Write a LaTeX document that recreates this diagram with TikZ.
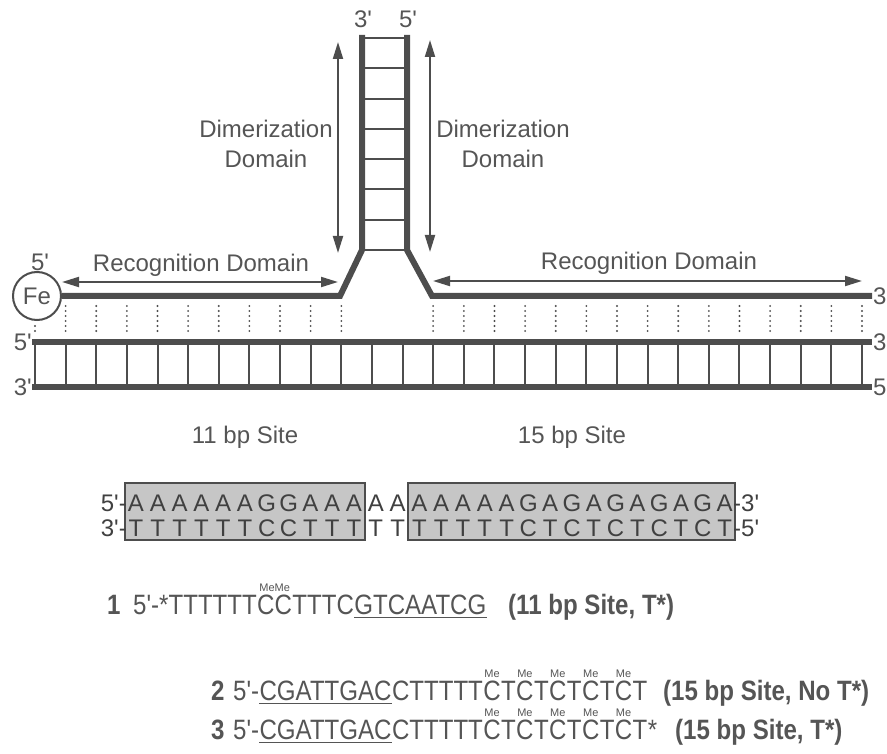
\documentclass[tikz,border=0pt]{standalone}
\usepackage{fontspec}
\newfontfamily\helv{Liberation Sans}
\newfontfamily\narrowsf[FakeStretch=0.86]{Liberation Sans}
\usepackage{tikz}
\usetikzlibrary{arrows.meta, positioning, calc}
\definecolor{ink}{HTML}{4D4D4D}
\definecolor{txt}{HTML}{555555}
\definecolor{stip}{HTML}{C6C6C6}

\begin{document}
\helv
\begin{tikzpicture}[
    x=1pt, y=-1pt,
    strand/.style ={draw=ink, line width=6pt},
    rung/.style   ={draw=ink, line width=2pt},
    pair/.style   ={draw=ink, line width=2.1pt, line cap=round, dash pattern=on 0pt off 5pt},
    span/.style   ={draw=ink, line width=2pt, {Triangle[length=17pt,width=10pt]}-{Triangle[length=17pt,width=10pt]}},
    lbl/.style    ={font=\fontsize{24}{30}\selectfont, text=txt, inner sep=0pt, align=center},
    bp/.style     ={font=\fontsize{24}{24}\selectfont, text=black!75, inner sep=0pt, anchor=base},
    sitebox/.style={fill=stip, draw=ink, line width=2.5pt},
    seq/.style    ={font=\narrowsf\fontsize{28}{30}\selectfont, text=txt, inner sep=0pt, anchor=base west},
    bold/.style   ={font=\narrowsf\bfseries\fontsize{28}{30}\selectfont},
    me/.style     ={font=\fontsize{11}{11}\selectfont, text=txt, inner sep=0pt, anchor=south},
    uline/.style  ={draw=txt, line width=1.8pt}
  ]
  \useasboundingbox (0,0) rectangle (887,754);

  %% ---- hairpin strand ----------------------------------------------
  \node[circle, draw=ink, line width=2pt, minimum size=48pt, inner sep=0pt,
        font=\fontsize{24}{24}\selectfont, text=txt] (fe) at (37,296) {Fe};
  \node[lbl] (fe5) at (40,262) {5'};
  \coordinate (stemL) at (362,35);  \coordinate (bendL) at (362,250);
  \coordinate (footL) at (340,296);
  \coordinate (stemR) at (407,35);  \coordinate (bendR) at (407,250);
  \coordinate (footR) at (432,296); \coordinate (endR)  at (872,296);
  \draw[strand] (stemL) -- (bendL) -- (footL) -- (fe.east);
  \draw[strand] (stemR) -- (bendR) -- (footR) -- (endR);
  \foreach \k in {0,...,7}
    \draw[rung] (362,{38+30.3*\k}) -- (407,{38+30.3*\k});
  \node[lbl] (top3) at (363,19) {3'};
  \node[lbl] (top5) at (408,19) {5'};
  \node[lbl, anchor=west] (hp3) at (873,296) {3};

  %% ---- domain arrows -----------------------------------------------
  \coordinate (dimLa) at (338,42);  \coordinate (dimLb) at (338,253);
  \coordinate (dimRa) at (430,40);  \coordinate (dimRb) at (430,252);
  \draw[span] (dimLa) -- (dimLb);
  \draw[span] (dimRa) -- (dimRb);
  \node[lbl] (dimL) at (266,144) {Dimerization\\Domain};
  \node[lbl] (dimR) at (503,144) {Dimerization\\Domain};
  \coordinate (recLa) at (62,282);  \coordinate (recLb) at (338,282);
  \coordinate (recRa) at (433,281); \coordinate (recRb) at (862,281);
  \draw[span] (recLa) -- (recLb);
  \draw[span] (recRa) -- (recRb);
  \node[lbl] (recL) at (201,265) {Recognition Domain};
  \node[lbl] (recR) at (649,263) {Recognition Domain};

  %% ---- target duplex -----------------------------------------------
  \foreach \i in {1,...,10,13,14,...,27}
    \draw[pair] ({35+30.63*\i},306) -- ({35+30.63*\i},335);
  \draw[pair] (35,326) -- (35,335);
  \foreach \i in {0,...,27}
    \draw[rung] ({35+30.63*\i},342) -- ({35+30.63*\i},387);
  \coordinate (dupT5) at (32,342);  \coordinate (dupT3) at (872,342);
  \coordinate (dupB3) at (32,387);  \coordinate (dupB5) at (872,387);
  \draw[strand] (dupT5) -- (dupT3);
  \draw[strand] (dupB3) -- (dupB5);
  \node[lbl, anchor=east] (dt5) at (dupT5) {5'};
  \node[lbl, anchor=east] (db3) at (dupB3) {3'};
  \node[lbl, anchor=west] (dt3) at ([xshift=1pt]dupT3) {3};
  \node[lbl, anchor=west] (db5) at ([xshift=1pt]dupB5) {5};

  \node[lbl] (site11) at (245,437) {11 bp Site};
  \node[lbl] (site15) at (572,437) {15 bp Site};

  %% ---- binding sites -----------------------------------------------
  \filldraw[sitebox] (125,483) rectangle (365,540);
  \filldraw[sitebox] (408,483) rectangle (735,540);
  \foreach \b [count=\i from 0] in {A,A,A,A,A,A,G,G,A,A,A,A,A,A,A,A,A,A,G,A,G,A,G,A,G,A,G,A}
    \node[bp] (t\i) at ({136+21.8*\i},511) {\b};
  \foreach \b [count=\i from 0] in {T,T,T,T,T,T,C,C,T,T,T,T,T,T,T,T,T,T,C,T,C,T,C,T,C,T,C,T}
    \node[bp] (b\i) at ({136+21.8*\i},536) {\b};
  \node[bp, anchor=base east] (ts5) at (127,511) {5'-};
  \node[bp, anchor=base east] (bs3) at (127,536) {3'-};
  \node[bp, anchor=base west] (ts3) at (733,511) {-3'};
  \node[bp, anchor=base west] (bs5) at (733,536) {-5'};

  %% ---- oligonucleotides --------------------------------------------
  % 1
  \node[seq, bold] (num1) at (107,614) {1};
  \node[seq] (o1a) at (133,614) {5'-*TTTTTT};
  \node[seq] (o1b) at (o1a.base east) {CC};
  \node[seq] (o1c) at (o1b.base east) {TTTC};
  \node[seq] (o1d) at (o1c.base east) {GTCAATCG};
  \node[me] (me1) at ([yshift=2.5pt]o1b.north) {MeMe};
  \draw[uline] ([yshift=-3.5pt]o1d.base west) -- ([yshift=-3.5pt]o1d.base east);
  \node[seq, bold] (note1) at (508,614) {(11 bp Site, T*)};

  % 2
  \node[seq, bold] (num2) at (211,700) {2};
  \node[seq] (o2a) at (233,700) {5'-};
  \node[seq] (o2b) at (o2a.base east) {CGATTGAC};
  \node[seq] (l2m0) at (o2b.base east) {CTTTTT};
  \foreach \c [count=\k, remember=\k as \j (initially 0)] in {C,T,C,T,C,T,C,T,C,T}
    \node[seq] (l2m\k) at (l2m\j.base east) {\c};
  \foreach \k in {1,3,5,7,9}
    \node[me] (me2\k) at ([yshift=2.5pt]l2m\k.north) {Me};
  \draw[uline] ([yshift=-3.5pt]o2b.base west) -- ([yshift=-3.5pt]o2b.base east);
  \node[seq, bold] (note2) at (663,700) {(15 bp Site, No T*)};

  % 3
  \node[seq, bold] (num3) at (211,739) {3};
  \node[seq] (o3a) at (233,739) {5'-};
  \node[seq] (o3b) at (o3a.base east) {CGATTGAC};
  \node[seq] (l3m0) at (o3b.base east) {CTTTTT};
  \foreach \c [count=\k, remember=\k as \j (initially 0)] in {C,T,C,T,C,T,C,T,C,T}
    \node[seq] (l3m\k) at (l3m\j.base east) {\c};
  \foreach \k in {1,3,5,7,9}
    \node[me] (me3\k) at ([yshift=2.5pt]l3m\k.north) {Me};
  \node[seq] (star3) at (l3m10.base east) {*};
  \draw[uline] ([yshift=-3.5pt]o3b.base west) -- ([yshift=-3.5pt]o3b.base east);
  \node[seq, bold] (note3) at (675,739) {(15 bp Site, T*)};

\end{tikzpicture}
\end{document}
